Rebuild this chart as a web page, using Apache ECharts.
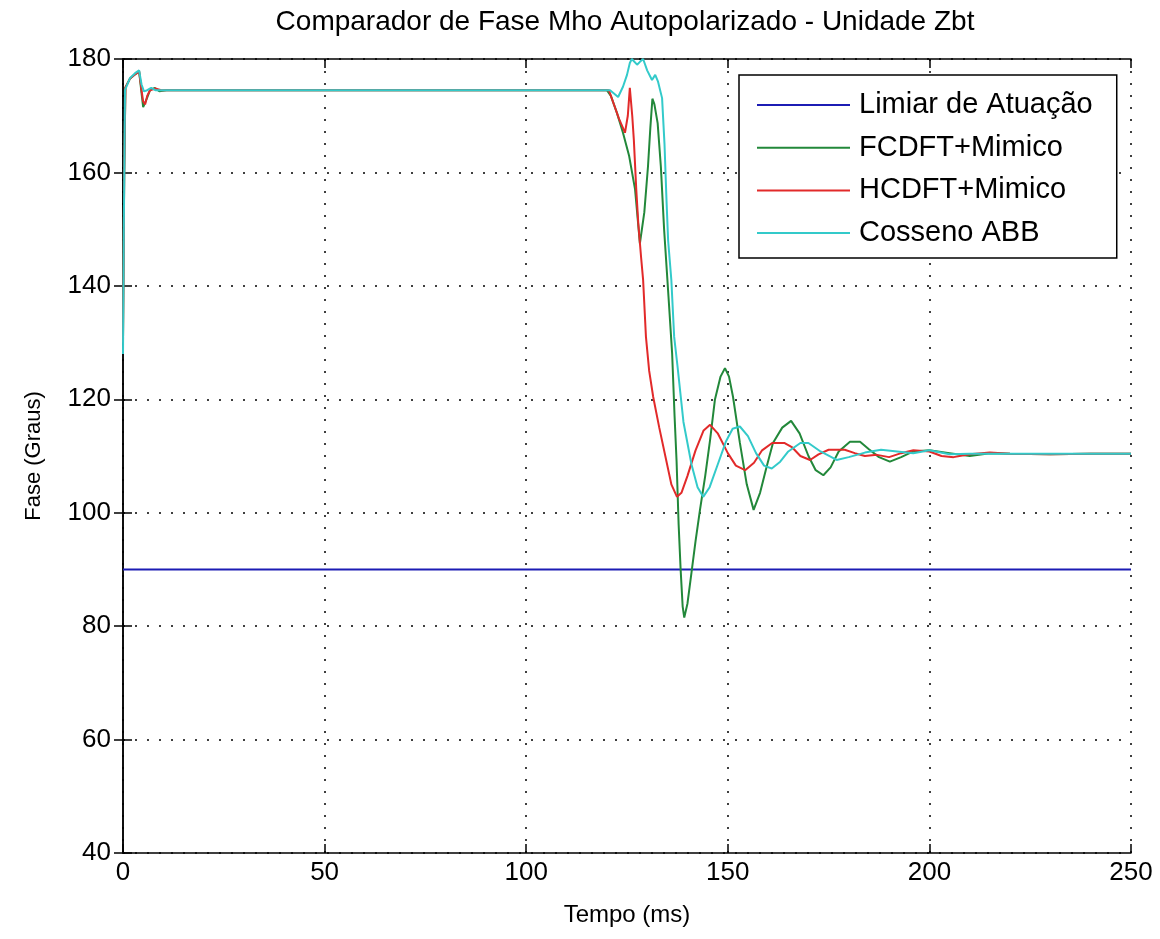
<!DOCTYPE html>
<html>
<head>
<meta charset="utf-8">
<script src="https://cdn.jsdelivr.net/npm/echarts@6/dist/echarts.min.js"></script>
<style>
  html, body { margin: 0; padding: 0; background: #fff; }
  #chart { width: 1160px; height: 939px; }
</style>
</head>
<body>
<div id="chart"></div>
<script>
// Phase comparator output (degrees) versus time (ms)
const xTicks = [0, 50, 100, 150, 200, 250];
const yTicks = [40, 60, 80, 100, 120, 140, 160, 180];

const limiarT = [0, 250];
const limiarV = [90, 90];

const fcdftT = [0, 0.3, 0.6, 1.7, 3, 4, 4.6, 5, 5.4, 5.9, 6.7, 7.9, 9, 10.8, 120, 121, 122.5, 124, 125.5, 127, 128.2,
  129.3, 130.2, 130.8, 131.3, 131.8, 132.6, 133.4, 134.2, 135.3, 136.2, 136.8, 137.3, 137.8, 138.3, 138.8, 139.2,
  140, 141, 142, 143.1, 144.4, 145.6, 146.8, 148.2, 149.3, 150.3, 151.3, 153, 154.7, 156.4, 158, 159.6, 161.2,
  163.5, 165.7, 167.8, 170, 171.8, 173.7, 175.5, 177.5, 180.3, 182.8, 185, 187.5, 190.2, 193, 196, 200, 205,
  210, 215, 220, 230, 240, 250];
const fcdftV = [131, 160, 175, 176.5, 177.3, 177.8, 174, 171.5, 171.3, 173, 174.5, 174.9, 174.3, 174.5, 174.5, 173.5,
  170.5, 167, 163, 157, 147.5, 153, 161, 168, 173, 172, 168.7, 161, 150, 138, 128, 117, 109, 98, 90, 83.5, 81.5,
  84, 89.5, 95, 100.5, 106.5, 112.8, 119.9, 124, 125.5, 124, 120.4, 112.3, 105, 100.5, 103.5, 108, 112.3,
  115, 116.2, 114, 110, 107.5, 106.6, 108, 110.8, 112.5, 112.5, 111.2, 109.8, 109, 109.8, 110.8, 111, 110.5,
  110, 110.5, 110.4, 110.3, 110.4, 110.4];

const hcdftT = [0, 0.3, 0.6, 1.7, 3, 4, 4.6, 5, 5.5, 6, 6.7, 8, 9.5, 11, 120.5, 121.5, 123, 124.5, 125.2, 125.7,
  126.3, 126.7, 127.3, 127.8, 128.5, 129, 129.7, 130.5, 131.5, 133, 134.5, 136, 137.4, 138.5, 140, 142, 144,
  145.6, 147.5, 150, 152, 154.3, 156.5, 158.5, 161, 164, 166, 168, 170.4, 172.5, 175, 179, 181.5, 184, 187,
  190, 193, 196, 200, 203, 206, 210, 215, 220, 230, 240, 250];
const hcdftV = [130, 160, 175, 176.5, 177.3, 177.8, 174.5, 172.5, 172, 173.5, 174.5, 174.8, 174.5, 174.5, 174.5, 172.5,
  169.5, 167, 170, 174.9, 170, 165.7, 157, 151, 145, 141, 131, 125, 120.4, 115, 110, 105, 102.8, 103.5, 106.5,
  111, 114.5, 115.5, 114, 110.5, 108.3, 107.5, 108.8, 111, 112.3, 112.3, 111.5, 110, 109.3, 110.3, 111.1, 111.1,
  110.5, 110, 110.2, 109.8, 110.5, 111, 110.8, 110, 109.8, 110.3, 110.6, 110.4, 110.3, 110.4, 110.4];

const cossenoT = [0, 0.2, 0.5, 1.7, 3, 4, 4.6, 5.2, 6, 7, 8, 120.8, 122.8, 124, 125, 125.7, 126.2, 127.5, 128.2,
  129, 130, 131.2, 132, 132.7, 133.7, 134.3, 134.8, 135.2, 136, 136.7, 137.5, 139, 141, 142.5, 143.9, 145.5,
  147.5, 149.5, 151.2, 153, 155, 157, 159, 160.9, 163, 165, 168, 170, 173, 177, 180, 184, 188, 192, 196, 200,
  205, 210, 220, 230, 240, 250];
const cossenoV = [128, 150, 174.5, 176.6, 177.5, 178, 175.5, 174.3, 174.5, 174.9, 174.5, 174.5, 173.3, 175.1, 177.2,
  179.3, 180, 179, 179.5, 180, 178, 176.3, 177.2, 176, 173.1, 165, 155, 148, 141, 131, 126, 116, 108.5, 104.5,
  102.8, 104.5, 108.5, 112.5, 114.8, 115.2, 113.5, 110.5, 108.3, 107.8, 109, 110.8, 112.3, 112.3, 110.8, 109.3,
  109.8, 110.6, 111.1, 110.8, 110.5, 111, 110.3, 110.4, 110.4, 110.4, 110.4, 110.4];

const pairs = (t, v) => t.map((x, i) => [x, v[i]]);

const FONT = 'Liberation Sans';
const gridDots = { color: '#000', width: 1.5, type: [2, 10] };

const chart = echarts.init(document.getElementById('chart'), null, { renderer: 'canvas' });

const lineSeries = (name, t, v, color) => ({
  name, type: 'line', data: pairs(t, v), xAxisIndex: 0, yAxisIndex: 0,
  symbol: 'none', smooth: false, animation: false,
  lineStyle: { color, width: 2 }, itemStyle: { color }
});

chart.setOption({
  backgroundColor: '#fff',
  animation: false,
  title: {
    text: 'Comparador de Fase Mho Autopolarizado - Unidade Zbt',
    left: 620, top: 3, textAlign: 'center',
    textStyle: { fontFamily: FONT, fontSize: 28, fontWeight: 'normal', color: '#000' }
  },
  grid: { left: 123, top: 59, right: 29, bottom: 86, containLabel: false },
  legend: {
    orient: 'vertical', left: 739, top: 75,
    data: ['Limiar de Atuação', 'FCDFT+Mimico', 'HCDFT+Mimico', 'Cosseno ABB'],
    icon: 'rect',
    itemWidth: 93, itemHeight: 2, itemGap: 12.7,
    padding: [15, 24, 10, 18],
    backgroundColor: '#fff', borderColor: '#000', borderWidth: 1.5,
    textStyle: { fontFamily: FONT, fontSize: 29, color: '#000', lineHeight: 30, padding: [0, 0, 0, 4] }
  },
  xAxis: [{
    type: 'value', min: 0, max: 250, interval: 50, position: 'bottom',
    name: 'Tempo (ms)', nameLocation: 'middle', nameGap: 50,
    nameTextStyle: { fontFamily: FONT, fontSize: 24, color: '#000' },
    axisLine: { lineStyle: { color: '#000', width: 1.5 } },
    axisTick: { inside: true, length: 9, lineStyle: { color: '#000', width: 1.5 } },
    axisLabel: { fontFamily: FONT, fontSize: 26, color: '#000', margin: 7,
      formatter: v => xTicks.includes(v) ? String(v) : '' },
    splitLine: { show: true, lineStyle: gridDots }
  }, {
    type: 'value', min: 0, max: 250, interval: 50, position: 'top',
    axisLine: { lineStyle: { color: '#000', width: 1.5 } },
    axisTick: { inside: true, length: 9, lineStyle: { color: '#000', width: 1.5 } },
    axisLabel: { show: false }, splitLine: { show: false }
  }],
  yAxis: [{
    type: 'value', min: 40, max: 180, interval: 20, position: 'left',
    name: 'Fase (Graus)', nameLocation: 'middle', nameGap: 78, nameRotate: 90,
    nameTextStyle: { fontFamily: FONT, fontSize: 22, color: '#000' },
    axisLine: { show: true, lineStyle: { color: '#000', width: 1.5 } },
    axisTick: { show: true, inside: true, length: 9, lineStyle: { color: '#000', width: 1.5 } },
    axisLabel: { fontFamily: FONT, fontSize: 26, color: '#000', margin: 12,
      formatter: v => yTicks.includes(v) ? String(v) : '' },
    splitLine: { show: true, lineStyle: gridDots }
  }, {
    type: 'value', min: 40, max: 180, interval: 20, position: 'right',
    axisLine: { show: true, lineStyle: { color: '#000', width: 1.5 } },
    axisTick: { show: true, inside: true, length: 9, lineStyle: { color: '#000', width: 1.5 } },
    axisLabel: { show: false }, splitLine: { show: false }
  }],
  series: [
    lineSeries('Limiar de Atuação', limiarT, limiarV, '#1c1cb4'),
    lineSeries('FCDFT+Mimico', fcdftT, fcdftV, '#22883a'),
    lineSeries('HCDFT+Mimico', hcdftT, hcdftV, '#e22a2a'),
    lineSeries('Cosseno ABB', cossenoT, cossenoV, '#33caca')
  ]
});
</script>
</body>
</html>
